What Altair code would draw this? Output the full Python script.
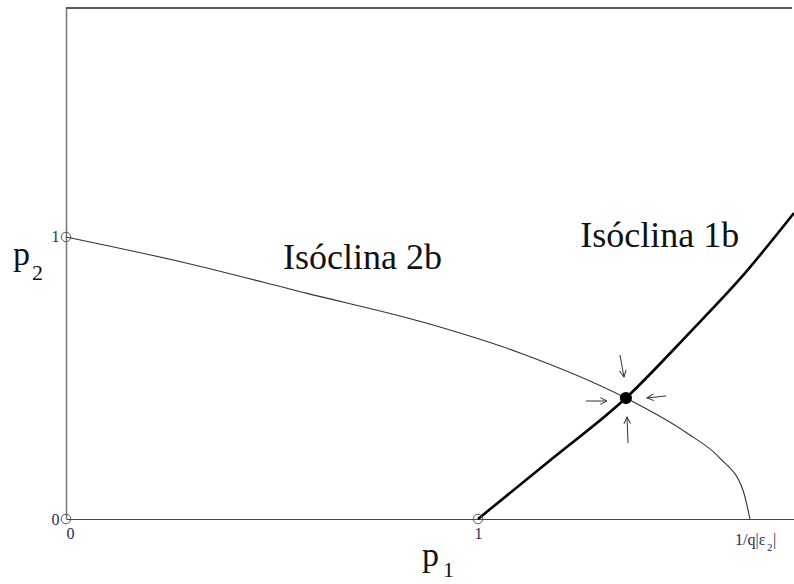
import altair as alt
import pandas as pd

# Isocline 2b: falls from (0, 1) to the p1 intercept 1/q|e2|
iso2_p1 = [0.0, 0.291, 0.583, 0.874, 1.102, 1.359, 1.507, 1.587, 1.643, 1.660]
iso2_p2 = [1.0, 0.908, 0.801, 0.695, 0.589, 0.429, 0.305, 0.216, 0.103, 0.0]

# Isocline 1b: rises from (1, 0)
iso1_p1 = [1.0, 1.182, 1.359, 1.515, 1.648, 1.767]
iso1_p2 = [0.0, 0.216, 0.429, 0.663, 0.872, 1.085]

# Open end-points and the stable equilibrium
open_p1 = [0.0, 0.0, 1.0]
open_p2 = [1.0, 0.0, 0.0]
eq_p1 = [1.359]
eq_p2 = [0.429]

# Small arrows converging on the equilibrium (start, tip, heading in degrees)
arrow_x0 = [1.3447, 1.2621, 1.4563, 1.3641]
arrow_y0 = [0.5816, 0.4184, 0.4362, 0.2695]
arrow_x1 = [1.3544, 1.3131, 1.4102, 1.3617]
arrow_y1 = [0.5035, 0.4184, 0.4291, 0.3617]
arrow_angle = [80, 0, 174, 268]

# Curve labels
label_text = ["Isóclina 2b", "Isóclina 1b"]
label_p1 = [0.527, 1.248]
label_p2 = [0.887, 0.965]

X_MAX = 1.767
Y_MAX = 1.812
SERIF = "'Liberation Serif'"
TICK_COLOR = "#1f2d5c"

W, H = 728, 511

xs = alt.Scale(domain=[0, X_MAX], nice=False, zero=False)
ys = alt.Scale(domain=[0, Y_MAX], nice=False, zero=False)

x_axis = alt.Axis(values=[0, 1], title=None, ticks=False, grid=False,
                  domainColor="#444", domainWidth=1.2,
                  labelFont=SERIF, labelFontSize=16, labelColor=TICK_COLOR,
                  labelPadding=6, format="d")
y_axis = alt.Axis(values=[0, 1], title=None, ticks=False, grid=False,
                  domainColor="#777", domainWidth=1.5,
                  labelFont=SERIF, labelFontSize=16, labelColor=TICK_COLOR,
                  labelPadding=7, format="d")

iso2 = pd.DataFrame({"p1": iso2_p1, "p2": iso2_p2})
iso1 = pd.DataFrame({"p1": iso1_p1, "p2": iso1_p2})
opens = pd.DataFrame({"p1": open_p1, "p2": open_p2})
eq = pd.DataFrame({"p1": eq_p1, "p2": eq_p2})
arrows = pd.DataFrame({"x0": arrow_x0, "y0": arrow_y0, "x1": arrow_x1,
                       "y1": arrow_y1, "angle": arrow_angle})
labels = pd.DataFrame({"text": label_text, "p1": label_p1, "p2": label_p2})

curve2 = alt.Chart(iso2).mark_line(color="#333", strokeWidth=1.1,
                                   interpolate="monotone").encode(
    x=alt.X("p1:Q", scale=xs, axis=x_axis),
    y=alt.Y("p2:Q", scale=ys, axis=y_axis),
)

curve1 = alt.Chart(iso1).mark_line(color="#000", strokeWidth=2.6,
                                   interpolate="monotone").encode(
    x=alt.X("p1:Q", scale=xs),
    y=alt.Y("p2:Q", scale=ys),
)

open_pts = alt.Chart(opens).mark_point(shape="circle", size=90, filled=False,
                                       color="#555", strokeWidth=1,
                                       opacity=1).encode(
    x=alt.X("p1:Q", scale=xs),
    y=alt.Y("p2:Q", scale=ys),
)

eq_pt = alt.Chart(eq).mark_point(shape="circle", size=150, filled=True,
                                 color="#000", opacity=1).encode(
    x=alt.X("p1:Q", scale=xs),
    y=alt.Y("p2:Q", scale=ys),
)

shafts = alt.Chart(arrows).mark_rule(color="#333", strokeWidth=1).encode(
    x=alt.X("x0:Q", scale=xs),
    y=alt.Y("y0:Q", scale=ys),
    x2="x1:Q",
    y2="y1:Q",
)

heads = alt.Chart(arrows).mark_point(shape="M-1,-0.5L0,0L-1,0.5", size=180,
                                     filled=False, color="#333",
                                     strokeWidth=1, opacity=1).encode(
    x=alt.X("x1:Q", scale=xs),
    y=alt.Y("y1:Q", scale=ys),
    angle=alt.Angle("angle:Q", scale=None),
)

curve_labels = alt.Chart(labels).mark_text(font=SERIF, fontSize=36,
                                           align="left", baseline="alphabetic",
                                           color="#111").encode(
    x=alt.X("p1:Q", scale=xs),
    y=alt.Y("p2:Q", scale=ys),
    text="text:N",
)

# Frame line along the top of the plot
top_line = alt.Chart().mark_rule(color="#222", strokeWidth=1.6).encode(
    x=alt.value(0), x2=alt.value(W - 2), y=alt.value(0)
)


def txt(s, x, y, size, color="#111"):
    return alt.Chart().mark_text(text=s, font=SERIF, fontSize=size,
                                 align="left", baseline="alphabetic",
                                 color=color).encode(
        x=alt.value(x), y=alt.value(y))


# Axis titles with subscripts, and the p1 intercept label
titles = [
    txt("p", -53, 257, 34),
    txt("2", -34, 272, 22),
    txt("p", 356, 558, 34),
    txt("1", 377, 569, 22),
    txt("1/q|ε", 669, 537, 16, TICK_COLOR),
    txt("2", 701, 543, 11, TICK_COLOR),
    txt("|", 707, 537, 16, TICK_COLOR),
]

chart = alt.layer(
    top_line, curve2, curve1, shafts, heads, open_pts, eq_pt, curve_labels,
    *titles
).properties(
    width=W, height=H,
    autosize=alt.AutoSizeParams(type="none"),
    padding={"left": 66, "top": 8, "right": 0, "bottom": 65},
    background="white",
).configure_view(strokeWidth=0)

chart.save("out.html", embed_options={"renderer": "svg", "actions": False})
